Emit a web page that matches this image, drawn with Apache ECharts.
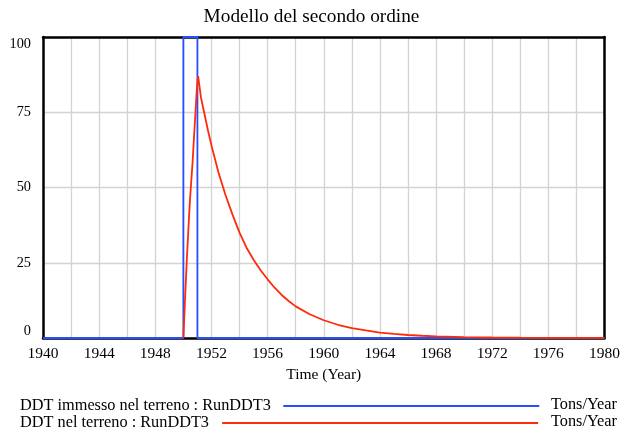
<!DOCTYPE html>
<html>
<head>
<meta charset="utf-8">
<script src="https://cdn.jsdelivr.net/npm/echarts@6/dist/echarts.min.js"></script>
<style>
  html, body { margin: 0; padding: 0; background: #fff; }
  #chart { width: 623px; height: 429px; }
</style>
</head>
<body>
<div id="chart"></div>
<script>
// values (time in years, Tons/Year)
var inflowSeries = [
  [1940, 0], [1950, 0], [1950, 100], [1951, 100], [1951, 0], [1980, 0]
];
var soilSeries = [
  [1950, 0], [1950.1, 11], [1950.25, 26.5], [1950.4, 40], [1950.5, 48],
  [1950.65, 58], [1950.8, 70], [1950.95, 82], [1951.05, 87],
  [1951.25, 80], [1951.5, 74.5], [1951.75, 69], [1952, 64], [1952.5, 55],
  [1953, 47.5], [1953.5, 41], [1954, 35], [1954.5, 30], [1955, 26],
  [1955.5, 22.5], [1956, 19.5], [1956.5, 16.7], [1957, 14.3], [1957.5, 12.3],
  [1958, 10.5], [1959, 7.9], [1960, 5.9], [1961, 4.4], [1962, 3.3],
  [1963, 2.5], [1964, 1.8], [1965, 1.35], [1966, 1.0], [1967, 0.75],
  [1968, 0.55], [1970, 0.3], [1972, 0.17], [1974, 0.1], [1976, 0.05],
  [1978, 0.03], [1980, 0.02]
];
var seriesNames = ["DDT immesso nel terreno : RunDDT3", "DDT nel terreno : RunDDT3"];
var unitLabel = "Tons/Year";

var serif = "'Liberation Serif', 'Times New Roman', serif";
var legendFont = 16.3;
var chart = echarts.init(document.getElementById("chart"));

// trailing blanks widen the gap between the name and its line
function legendBlock(name, top, trail, lineWidth) {
  return {
    data: [name],
    left: 15,
    top: top,
    align: "right",
    icon: "rect",
    itemWidth: lineWidth,
    itemHeight: 2,
    formatter: function (n) { return n + trail; },
    textStyle: { fontFamily: serif, fontSize: legendFont, color: "#000" }
  };
}

var frameLine = { show: true, onZero: false, lineStyle: { color: "#000", width: 2.5 } };

var option = {
  animation: false,
  backgroundColor: "#ffffff",
  title: {
    text: "Modello del secondo ordine",
    left: "center",
    top: 2,
    textStyle: { fontFamily: serif, fontSize: 19.3, fontWeight: "normal", color: "#000" }
  },
  grid: {
    left: 43,
    right: 17,
    top: 37,
    bottom: 91
  },
  xAxis: [
    {
      type: "value",
      min: 1940,
      max: 1980,
      interval: 4,
      name: "Time (Year)",
      nameLocation: "middle",
      nameGap: 21,
      nameTextStyle: { fontFamily: serif, fontSize: 15.5, color: "#000" },
      axisLine: frameLine,
      axisTick: { show: false },
      minorTick: { show: false, splitNumber: 2 },
      axisLabel: {
        fontFamily: serif, fontSize: 15.5, color: "#000", margin: 8,
        formatter: function (v) { return String(v); }
      },
      splitLine: { show: true, lineStyle: { color: "#d3d3d3", width: 1.3 } },
      minorSplitLine: { show: true, lineStyle: { color: "#d3d3d3", width: 1.3 } }
    },
    {
      type: "value",
      position: "top",
      min: 1940,
      max: 1980,
      axisLine: frameLine,
      axisTick: { show: false },
      axisLabel: { show: false },
      splitLine: { show: false }
    }
  ],
  yAxis: [
    {
      type: "value",
      min: 0,
      max: 100,
      interval: 25,
      axisLine: frameLine,
      axisTick: { show: false },
      axisLabel: {
        fontFamily: serif, fontSize: 14.3, color: "#000", margin: 12,
        verticalAlignMinLabel: "bottom",
        verticalAlignMaxLabel: "top"
      },
      splitLine: { show: true, lineStyle: { color: "#d3d3d3", width: 1.3 } }
    },
    {
      type: "value",
      position: "right",
      min: 0,
      max: 100,
      axisLine: frameLine,
      axisTick: { show: false },
      axisLabel: { show: false },
      splitLine: { show: false }
    }
  ],
  legend: [
    legendBlock(seriesNames[0], 393, " \u2009", 256),
    legendBlock(seriesNames[1], 410, "  ", 316)
  ],
  graphic: [
    { type: "text", left: 551, top: 397, style: { text: unitLabel, font: legendFont + "px " + serif, fill: "#000" } },
    { type: "text", left: 551, top: 414, style: { text: unitLabel, font: legendFont + "px " + serif, fill: "#000" } }
  ],
  series: [
    {
      name: seriesNames[0],
      type: "line",
      data: inflowSeries,
      showSymbol: false,
      symbol: "none",
      color: "#2650ff",
      lineStyle: { color: "#2650ff", width: 1.8 }
    },
    {
      name: seriesNames[1],
      type: "line",
      data: soilSeries,
      showSymbol: false,
      symbol: "none",
      color: "#ff2a0a",
      lineStyle: { color: "#ff2a0a", width: 1.8 }
    }
  ]
};
chart.setOption(option);
</script>
</body>
</html>
